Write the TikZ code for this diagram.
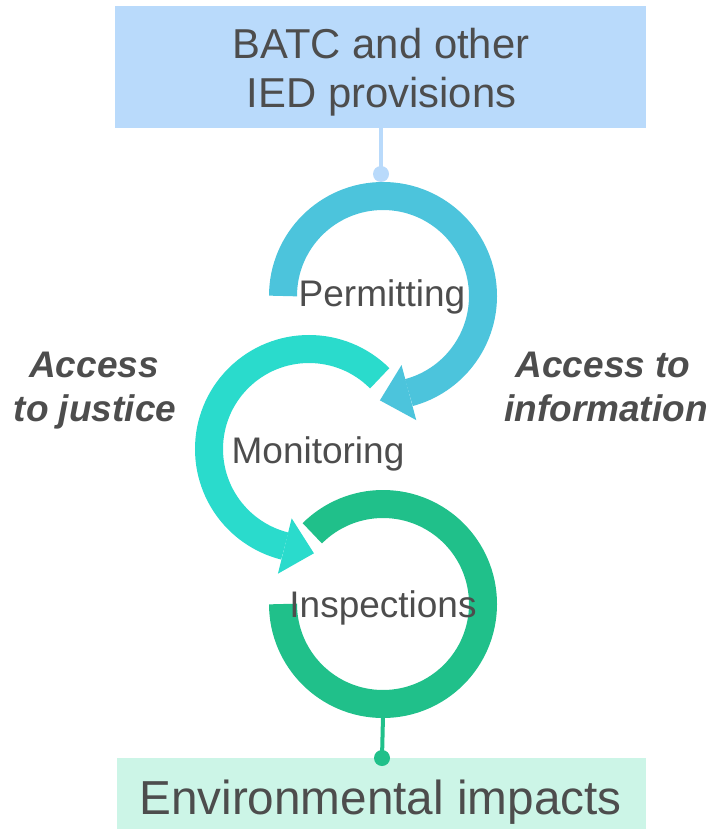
\documentclass[tikz,border=0pt]{standalone}
\usepackage{fontspec}
\setmainfont{Liberation Sans}
\usetikzlibrary{calc}
\definecolor{topbox}{HTML}{B9DAFB}
\definecolor{botbox}{HTML}{CCF5E7}
\definecolor{cblue}{HTML}{4CC4DC}
\definecolor{cteal}{HTML}{2ADBCC}
\definecolor{cgreen}{HTML}{20C08A}
\definecolor{txt}{HTML}{4D4D4D}
\tikzset{
  boxstyle/.style={draw=none, inner sep=0pt, outer sep=0pt},
  ringtext/.style={anchor=base, text=txt, inner sep=0pt, font=\fontsize{37}{44}\selectfont},
  sidetext/.style={anchor=base, text=txt, inner sep=0pt, font=\fontsize{37}{44}\selectfont\bfseries\itshape},
  band/.style={line width=28pt},
  link/.style={line width=4pt},
}
\begin{document}
\begin{tikzpicture}[x=1pt,y=1pt]
\useasboundingbox (0,0) rectangle (708,-829);
% boxes
\node[boxstyle, fill=topbox, minimum width=531pt, minimum height=122pt] (top) at (380.5,-67) {};
\node[anchor=base, text=txt, inner sep=0pt, font=\fontsize{41.8}{50}\selectfont] (top1) at (381,-58.3) {BATC and other};
\node[anchor=base, text=txt, inner sep=0pt, font=\fontsize{41.8}{50}\selectfont] (top2) at (381.5,-108) {IED provisions};
\node[boxstyle, fill=botbox, minimum width=529pt, minimum height=71pt] (bot) at (381.5,-793.5) {};
\node[anchor=base, text=txt, inner sep=0pt, font=\fontsize{47.7}{50}\selectfont] (bottxt) at (380.5,-814) {Environmental impacts};
% centres
\coordinate (B) at (383,-296);
\coordinate (T) at (309,-449);
\coordinate (G) at (383,-604);
% blue ring with arrow
\draw[band, cblue] ($(B)+(180:100)$) arc[start angle=180, end angle=-75, radius=100];
\fill[cblue] ($(B)+(-75:71.5)$) -- ($(B)+(-75:128.5)$) -- ($(B)+(-75:100)+(-165:30)$) -- cycle;
% teal ring with arrow
\draw[band, cteal] ($(T)+(45:100)$) arc[start angle=45, end angle=256, radius=100];
\fill[cteal] ($(T)+(256:71.5)$) -- ($(T)+(256:128.5)$) -- ($(T)+(256:100)+(346:30)$) -- cycle;
% green ring
\draw[band, cgreen] ($(G)+(180:100)$) arc[start angle=180, end angle=495, radius=100];
% connectors
\coordinate (d1) at (381,-174);
\coordinate (d2) at (382,-758);
\coordinate (gb) at (383,-716);
\draw[link, topbox] (top.south -| d1) -- (d1);
\fill[topbox] (d1) circle[radius=8];
\draw[link, cgreen] (gb) -- (d2);
\fill[cgreen] (d2) circle[radius=8];
% ring labels
\node[ringtext] (perm) at (382,-306) {Permitting};
\node[ringtext] (moni) at (318,-463) {Monitoring};
\node[ringtext] (insp) at (383,-617) {Inspections};
% side labels
\node[sidetext] (aj1) at (94,-377) {Access};
\node[sidetext] (aj2) at (95,-421) {to justice};
\node[sidetext] (ai1) at (603,-377) {Access to};
\node[sidetext] (ai2) at (606,-421) {information};
\end{tikzpicture}
\end{document}
